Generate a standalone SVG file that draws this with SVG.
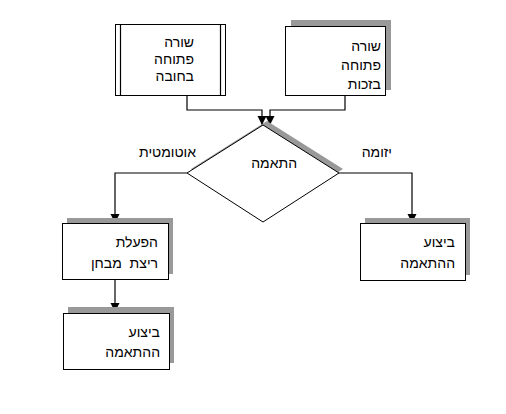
<svg xmlns="http://www.w3.org/2000/svg" width="506" height="414" viewBox="0 0 506 414">
<style>
.box{fill:#fff;stroke:#000;stroke-width:1}
.sh{fill:#999;stroke:none}
.ln{fill:none;stroke:#000;stroke-width:1.2}
text{font-family:"Liberation Sans","DejaVu Sans",sans-serif;font-size:14px;fill:#000;text-anchor:end;white-space:pre}
</style>
<defs>
<marker id="ah" markerWidth="10" markerHeight="10" refX="9" refY="5" orient="auto" markerUnits="userSpaceOnUse">
<path d="M0,0.5 L9,5 L0,9.5 Z" fill="#000"/>
</marker>
</defs>
<g id="connectors">
<path class="ln" d="M187,96 V110 H262 V125" marker-end="url(#ah)"/>
<path class="ln" d="M345,96 V110 H270 V125" marker-end="url(#ah)"/>
<path class="ln" d="M187,173 H115 V223" marker-end="url(#ah)"/>
<path class="ln" d="M339,173 H412 V223" marker-end="url(#ah)"/>
<path class="ln" d="M115,280 L115,312" marker-end="url(#ah)"/>
</g>
<g id="node-open-debit">
<rect class="box" x="115.5" y="24.5" width="110" height="71"/>
<line class="ln" x1="120.5" y1="24.5" x2="120.5" y2="95.5" stroke-width="1"/>
<line class="ln" x1="220.5" y1="24.5" x2="220.5" y2="95.5" stroke-width="1"/>
<text x="194" y="47">שורה</text>
<text x="194" y="64">פתוחה</text>
<text x="194" y="81">בחובה</text>
</g>
<g id="node-open-credit">
<rect class="sh" x="291" y="20" width="100" height="70"/>
<rect class="box" x="285.5" y="26.5" width="100" height="69"/>
<text x="381" y="51">שורה</text>
<text x="381" y="70">פתוחה</text>
<text x="381" y="89">בזכות</text>
</g>
<g id="node-match">
<polygon class="sh" points="267,121 343,169 267,218 191,169"/>
<polygon class="box" points="263,125 339,173 263,222 187,173"/>
<text x="297" y="168">התאמה</text>
</g>
<text x="196" y="157">אוטומטית</text>
<text x="392" y="157">יזומה</text>
<g id="node-run-test">
<rect class="sh" x="67" y="218" width="106" height="56"/>
<rect class="box" x="62.5" y="223.5" width="106" height="56"/>
<text x="158" y="247">הפעלת</text>
<text x="158" y="268">ריצת  מבחן</text>
</g>
<g id="node-exec-left">
<rect class="sh" x="68" y="307" width="106" height="56"/>
<rect class="box" x="63.5" y="313.5" width="106" height="56"/>
<text x="160" y="337">ביצוע</text>
<text x="160" y="357">ההתאמה</text>
</g>
<g id="node-exec-right">
<rect class="sh" x="365" y="218" width="105" height="57"/>
<rect class="box" x="360.5" y="223.5" width="105" height="57"/>
<text x="455" y="247">ביצוע</text>
<text x="455" y="268">ההתאמה</text>
</g>
</svg>
